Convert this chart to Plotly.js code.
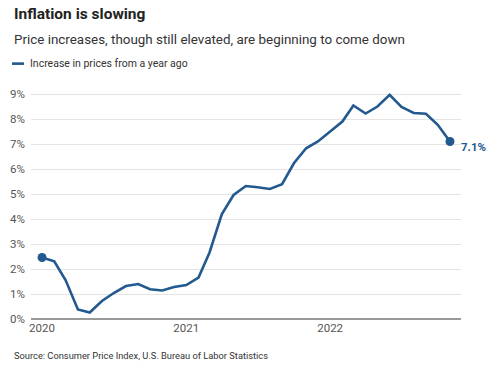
<!DOCTYPE html>
<html>
<head>
<meta charset="utf-8">
<script src="https://cdn.plot.ly/plotly-3.0.1.min.js"></script>
<style>html,body{margin:0;padding:0;background:#fff}#chart{width:500px;height:370px}</style>
</head>
<body>
<div id="chart"></div>
<script>
const months = [
  "2020-01-01","2020-02-01","2020-03-01","2020-04-01","2020-05-01","2020-06-01",
  "2020-07-01","2020-08-01","2020-09-01","2020-10-01","2020-11-01","2020-12-01",
  "2021-01-01","2021-02-01","2021-03-01","2021-04-01","2021-05-01","2021-06-01",
  "2021-07-01","2021-08-01","2021-09-01","2021-10-01","2021-11-01","2021-12-01",
  "2022-01-01","2022-02-01","2022-03-01","2022-04-01","2022-05-01","2022-06-01",
  "2022-07-01","2022-08-01","2022-09-01","2022-10-01","2022-11-01"
];
const inflation = [
  2.46, 2.31, 1.55, 0.38, 0.26, 0.72, 1.04, 1.32, 1.40, 1.19, 1.14, 1.28,
  1.36, 1.66, 2.66, 4.19, 4.96, 5.32, 5.27, 5.20, 5.39, 6.23, 6.83, 7.10,
  7.50, 7.90, 8.54, 8.22, 8.50, 8.97, 8.48, 8.24, 8.21, 7.77, 7.10
];
const yTicks = [0,1,2,3,4,5,6,7,8,9];
const yTickLabels = ["0%","1%","2%","3%","4%","5%","6%","7%","8%","9%"];
const xTicks = ["2020-01-01","2021-01-01","2022-01-01"];
const xTickLabels = ["2020","2021","2022"];
const titleText = "Inflation is slowing";
const subtitleText = "Price increases, though still elevated, are beginning to come down";
const legendText = "Increase in prices from a year ago";
const sourceText = "Source: Consumer Price Index, U.S. Bureau of Labor Statistics";

const blue = "#22598f";
const font = "Roboto, 'Liberation Sans', sans-serif";
const last = inflation.length - 1;

const traces = [
  {
    x: months, y: inflation, type: "scatter", mode: "lines",
    line: {color: blue, width: 2.6}, hoverinfo: "skip", cliponaxis: false
  },
  {
    x: [months[0], months[last]], y: [inflation[0], inflation[last]],
    type: "scatter", mode: "markers",
    marker: {color: blue, size: 9}, hoverinfo: "skip", cliponaxis: false
  }
];

const layout = {
  width: 500, height: 370,
  margin: {l: 31, r: 39, t: 89.3, b: 51.3},
  paper_bgcolor: "#fff", plot_bgcolor: "#fff",
  showlegend: false,
  font: {family: font, color: "#555", size: 11.5},
  xaxis: {
    type: "date",
    range: ["2019-12-04", "2022-11-29"],
    tickvals: xTicks, ticktext: xTickLabels,
    showgrid: false, zeroline: false, showline: false,
    ticks: "", tickfont: {size: 11.5, color: "#555"},
    fixedrange: true
  },
  yaxis: {
    range: [0, 9.2],
    tickvals: yTicks, ticktext: yTickLabels,
    showgrid: true, gridcolor: "#e4e4e4", gridwidth: 1,
    zeroline: true, zerolinecolor: "#999", zerolinewidth: 2,
    showline: false, ticks: "", ticklabelstandoff: 5,
    tickfont: {size: 11.5, color: "#555"},
    fixedrange: true
  },
  shapes: [
    {type: "line", xref: "paper", yref: "paper",
     x0: (12 - 31) / 430, x1: (24 - 31) / 430,
     y0: (370 - 51.3 - 64) / 229.4, y1: (370 - 51.3 - 64) / 229.4,
     line: {color: blue, width: 2.6}}
  ],
  annotations: [
    {text: "<b>" + titleText + "</b>", xref: "paper", yref: "paper",
     x: (12 - 31) / 430, y: (370 - 51.3 - 14) / 229.4,
     xanchor: "left", yanchor: "middle", showarrow: false,
     font: {family: font, size: 15.5, color: "#222"}},
    {text: subtitleText, xref: "paper", yref: "paper",
     x: (12 - 31) / 430, y: (370 - 51.3 - 40) / 229.4,
     xanchor: "left", yanchor: "middle", showarrow: false,
     font: {family: font, size: 13.4, color: "#333"}},
    {text: legendText, xref: "paper", yref: "paper",
     x: (28 - 31) / 430, y: (370 - 51.3 - 64) / 229.4,
     xanchor: "left", yanchor: "middle", showarrow: false,
     font: {family: font, size: 10.5, color: "#333"}},
    {text: sourceText, xref: "paper", yref: "paper",
     x: (12 - 31) / 430, y: (370 - 51.3 - 355) / 229.4,
     xanchor: "left", yanchor: "middle", showarrow: false,
     font: {family: font, size: 9.3, color: "#333"}},
    {text: "<b>" + inflation[last].toFixed(1) + "%</b>", x: months[last], y: inflation[last],
     xref: "x", yref: "y", xanchor: "left", yanchor: "middle",
     xshift: 9, yshift: -5, showarrow: false,
     font: {family: font, size: 11.5, color: blue}}
  ]
};

Plotly.newPlot("chart", traces, layout, {staticPlot: true, displayModeBar: false});
</script>
</body>
</html>
